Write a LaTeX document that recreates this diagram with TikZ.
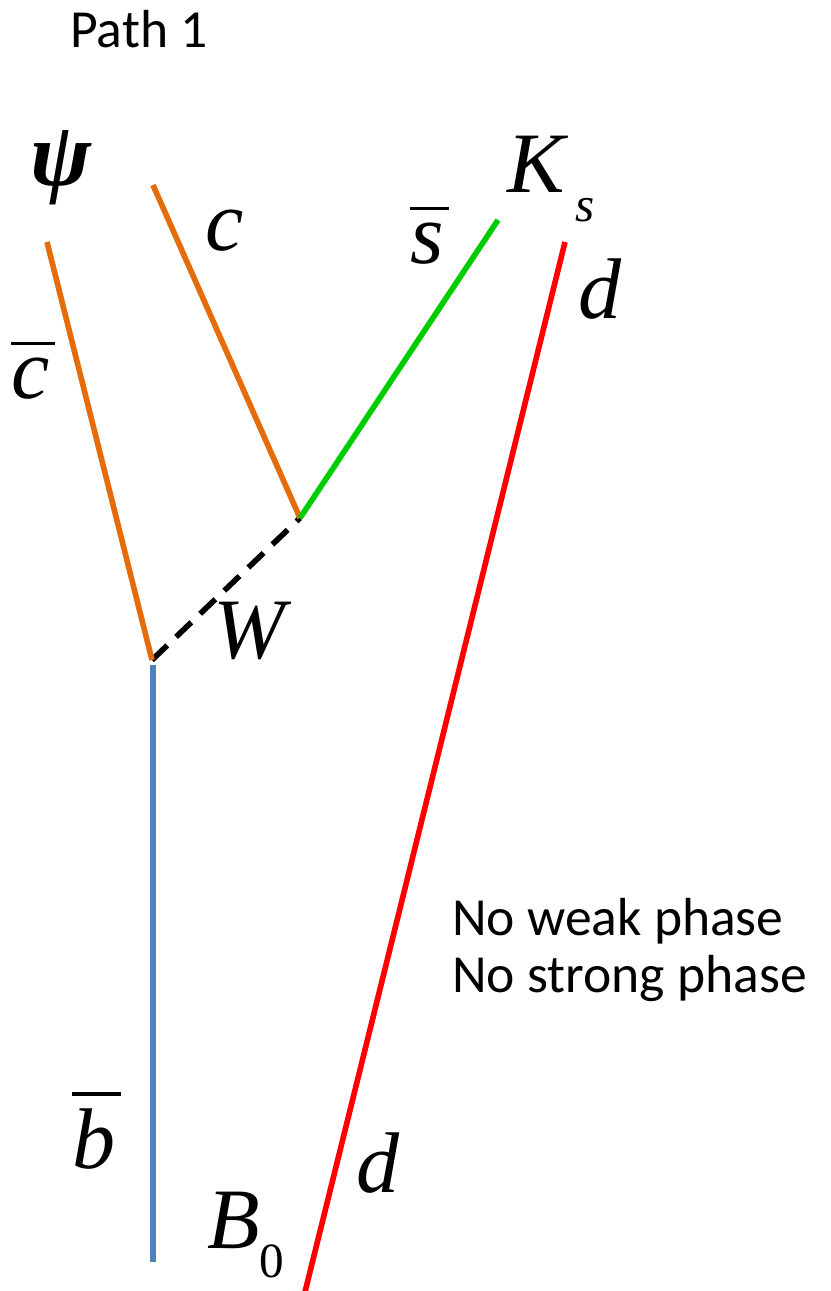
\documentclass[tikz,border=0pt]{standalone}
\usepackage{fontspec}
\setmainfont{Liberation Serif}
\newfontfamily\notefont{Carlito}
\usetikzlibrary{positioning}
\definecolor{QuarkOrange}{HTML}{E46C0A}
\definecolor{QuarkGreen}{HTML}{00CC00}
\definecolor{QuarkBlue}{HTML}{4F81BD}
\definecolor{QuarkRed}{HTML}{FF0000}
%% label with a bar above it (antiquark)
\newcommand{\antiq}[1]{\setbox0=\hbox{#1}%
  \vbox{\hrule width\dimexpr\wd0+3pt\relax height 2pt\kern 7pt\box0}}
\tikzset{
  quark/.style={line width=3.2pt},
  qlabel/.style={inner sep=0pt, anchor=base west,
    font=\fontsize{49}{55}\selectfont\itshape},
  note/.style={inner sep=0pt, anchor=base west, font=\notefont\fontsize{30.5}{32.4}\selectfont}
}

\begin{document}
\begin{tikzpicture}[x=0.02cm, y=-0.02cm]
  \useasboundingbox (0,0) rectangle (831,1291);
  %% Vertices and free ends
  \coordinate (vtxB) at (152,660);
  \coordinate (vtxW) at (300,518);
  \coordinate (cbarEnd) at (47,242);
  \coordinate (cEnd) at (153,185);
  \coordinate (sbarEnd) at (498,220);
  \coordinate (bbarEnd) at (153,1262);
  \coordinate (bbarTop) at (153,665);
  \coordinate (dTop) at (565,242);
  \coordinate (dBot) at (305,1292);
  %% W boson
  \draw[black, line width=3.2pt, dash pattern=on 12pt off 7pt] (vtxB) -- (vtxW);
  %% Quark lines
  \draw[quark, QuarkBlue] (bbarTop) -- (bbarEnd);
  \draw[quark, QuarkOrange] (cbarEnd) -- (vtxB);
  \draw[quark, QuarkOrange] (cEnd) -- (vtxW);
  \draw[quark, QuarkGreen] (vtxW) -- (sbarEnd);
  \draw[quark, QuarkRed] (dTop) -- (dBot);
  %% Labels
  \node[inner sep=0pt, font=\fontsize{52}{58}\selectfont\bfseries\itshape] (psi) at (61,168) {ψ};
  \node[qlabel] (cLbl) at (205,250) {c};
  \node[qlabel] (cbarLbl) at (11,398) {\antiq{c}};
  \node[qlabel] (sbarLbl) at (410,263) {\antiq{s}};
  \node[qlabel] (kLbl) at (507,192) {K\kern6pt\raisebox{-17pt}{\fontsize{28}{30}\selectfont s}};
  \node[qlabel] (dTopLbl) at (578,318) {d};
  \node[qlabel] (wLbl) at (213,658) {W};
  \node[qlabel] (bbarLbl) at (72,1168) {\antiq{b}};
  \node[qlabel] (bLbl) at (207,1248) {B\raisebox{-16.5pt}{\fontsize{28}{30}\selectfont\upshape 0}};
  \node[qlabel] (dBotLbl) at (356,1192) {d};
  %% Text
  \node[note] (title) at (70,48) {Path 1};
  \node[note] (weak) at (452,935) {No weak phase};
  \node[note] (strong) at (452,992) {No strong phase};
\end{tikzpicture}
\end{document}
